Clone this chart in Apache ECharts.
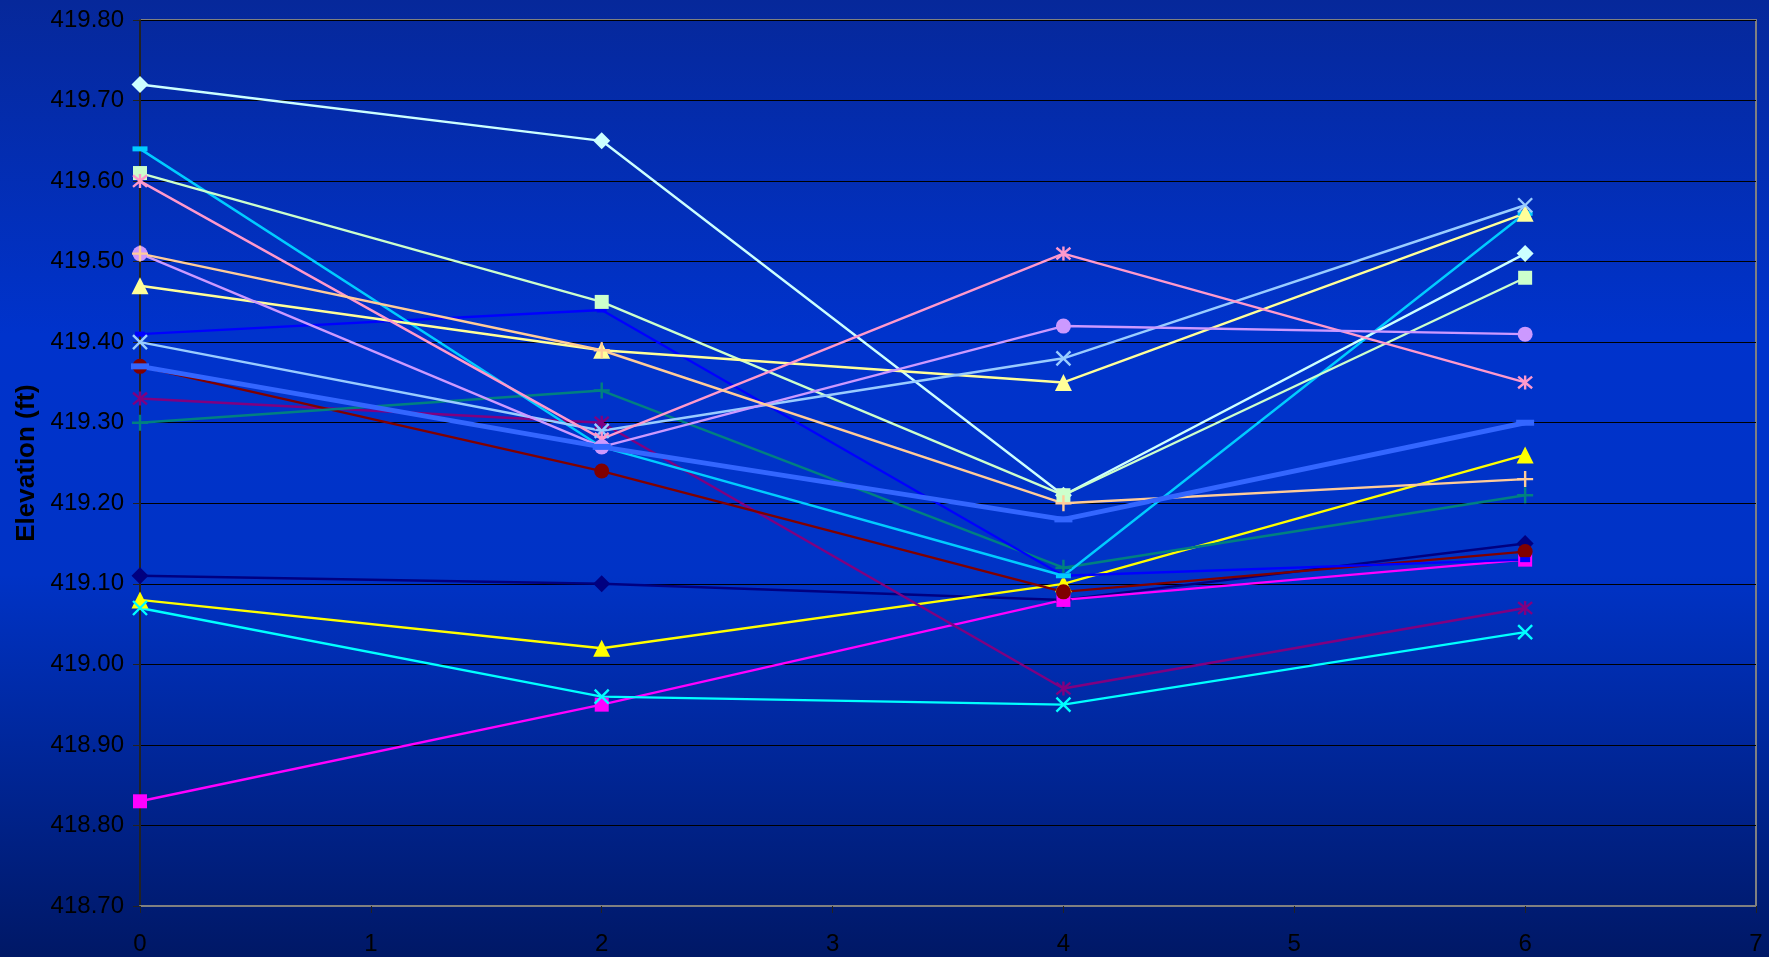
<!DOCTYPE html>
<html>
<head>
<meta charset="utf-8">
<title>Elevation</title>
<script src="https://cdn.jsdelivr.net/npm/echarts@6/dist/echarts.min.js"></script>
<style>
    html, body { margin: 0; padding: 0; background: #0033cc; }
    #chart { width: 1769px; height: 957px; }
</style>
</head>
<body>
<div id="chart"></div>
<script>
    // x positions
    var xValues = [0, 2, 4, 6];
    // series values (ft)
    var s1 = [419.11, 419.10, 419.08, 419.15];
    var s2 = [418.83, 418.95, 419.08, 419.13];
    var s3 = [419.08, 419.02, 419.10, 419.26];
    var s4 = [419.07, 418.96, 418.95, 419.04];
    var s5 = [419.33, 419.30, 418.97, 419.07];
    var s6 = [419.37, 419.24, 419.09, 419.14];
    var s7 = [419.30, 419.34, 419.12, 419.21];
    var s8 = [419.41, 419.44, 419.11, 419.13];
    var s9 = [419.64, 419.27, 419.11, 419.56];
    var s10 = [419.72, 419.65, 419.21, 419.51];
    var s11 = [419.61, 419.45, 419.21, 419.48];
    var s12 = [419.47, 419.39, 419.35, 419.56];
    var s13 = [419.40, 419.29, 419.38, 419.57];
    var s14 = [419.60, 419.28, 419.51, 419.35];
    var s15 = [419.51, 419.27, 419.42, 419.41];
    var s16 = [419.51, 419.39, 419.20, 419.23];
    var avg = [419.37, 419.27, 419.18, 419.30];
    // axis ranges / ticks
    var yMin = 418.7, yMax = 419.8, yStep = 0.1;
    var xMin = 0, xMax = 7, xStep = 1;

    var X_MARK = 'path://M0,0L10,10M10,0L0,10';
    var STAR_MARK = 'path://M0,0L10,10M10,0L0,10M5,-1L5,11';
    var PLUS_MARK = 'path://M5,0L5,10M0,5L10,5';

    function pairs(vals) {
        return vals.map(function (v, i) { return [xValues[i], v]; });
    }
    function makeSeries(vals, color, symbol, size, stroke, width) {
        return {
            type: 'line',
            data: pairs(vals),
            symbol: symbol,
            symbolSize: size,
            showAllSymbol: true,
            animation: false,
            lineStyle: { color: color, width: width || 2.4 },
            itemStyle: stroke
                ? { color: color, borderColor: color, borderWidth: 2.4 }
                : { color: color, borderWidth: 0 }
        };
    }

    var series = [
        makeSeries(s1, '#000080', 'diamond', 17),
        makeSeries(s2, '#FF00FF', 'rect', 14),
        makeSeries(s3, '#FFFF00', 'triangle', 17),
        makeSeries(s4, '#00FFFF', X_MARK, 14, true),
        makeSeries(s5, '#800080', STAR_MARK, 14, true),
        makeSeries(s6, '#800000', 'circle', 15),
        makeSeries(s7, '#008080', PLUS_MARK, 16, true),
        makeSeries(s8, '#0000FF', 'rect', [10, 5]),
        makeSeries(s9, '#00CCFF', 'rect', [15, 5]),
        makeSeries(s10, '#CCFFFF', 'diamond', 17),
        makeSeries(s11, '#CCFFCC', 'rect', 14),
        makeSeries(s12, '#FFFF99', 'triangle', 17),
        makeSeries(s13, '#99CCFF', X_MARK, 14, true),
        makeSeries(s14, '#FF99CC', STAR_MARK, 14, true),
        makeSeries(s15, '#CC99FF', 'circle', 15),
        makeSeries(s16, '#FFCC99', PLUS_MARK, 16, true),
        makeSeries(avg, '#3366FF', 'rect', [18, 6], false, 5)
    ];

    var chart = echarts.init(document.getElementById('chart'));
    chart.setOption({
        backgroundColor: new echarts.graphic.LinearGradient(0, 0, 0, 1, [
            { offset: 0, color: '#06289a' },
            { offset: 0.35, color: '#0033cc' },
            { offset: 0.6, color: '#0033c6' },
            { offset: 1, color: '#001866' }
        ]),
        animation: false,
        grid: {
            left: 140, right: 13, top: 20, bottom: 51,
            show: true, borderColor: '#808080', borderWidth: 2,
            backgroundColor: 'transparent'
        },
        xAxis: {
            type: 'value', min: xMin, max: xMax, interval: xStep,
            axisLine: { show: true, onZero: false, lineStyle: { color: '#808080', width: 2 } },
            axisTick: { show: true, inside: false, length: 7, lineStyle: { color: '#222' } },
            axisLabel: { color: '#000', fontSize: 24, fontFamily: 'Liberation Sans', margin: 26 },
            splitLine: { show: false }
        },
        yAxis: {
            type: 'value', min: yMin, max: yMax, interval: yStep,
            name: 'Elevation (ft)', nameLocation: 'middle', nameGap: 100,
            nameTextStyle: { color: '#000', fontSize: 26, fontWeight: 'bold', fontFamily: 'Liberation Sans' },
            axisLine: { show: true, lineStyle: { color: '#222', width: 2 } },
            axisTick: { show: true, inside: false, length: 7, lineStyle: { color: '#222' } },
            axisLabel: {
                color: '#000', fontSize: 24, fontFamily: 'Liberation Sans', margin: 16,
                formatter: function (v) { return v.toFixed(2); }
            },
            splitLine: { show: true, lineStyle: { color: '#000', width: 1 } }
        },
        series: series
    });
</script>
</body>
</html>
